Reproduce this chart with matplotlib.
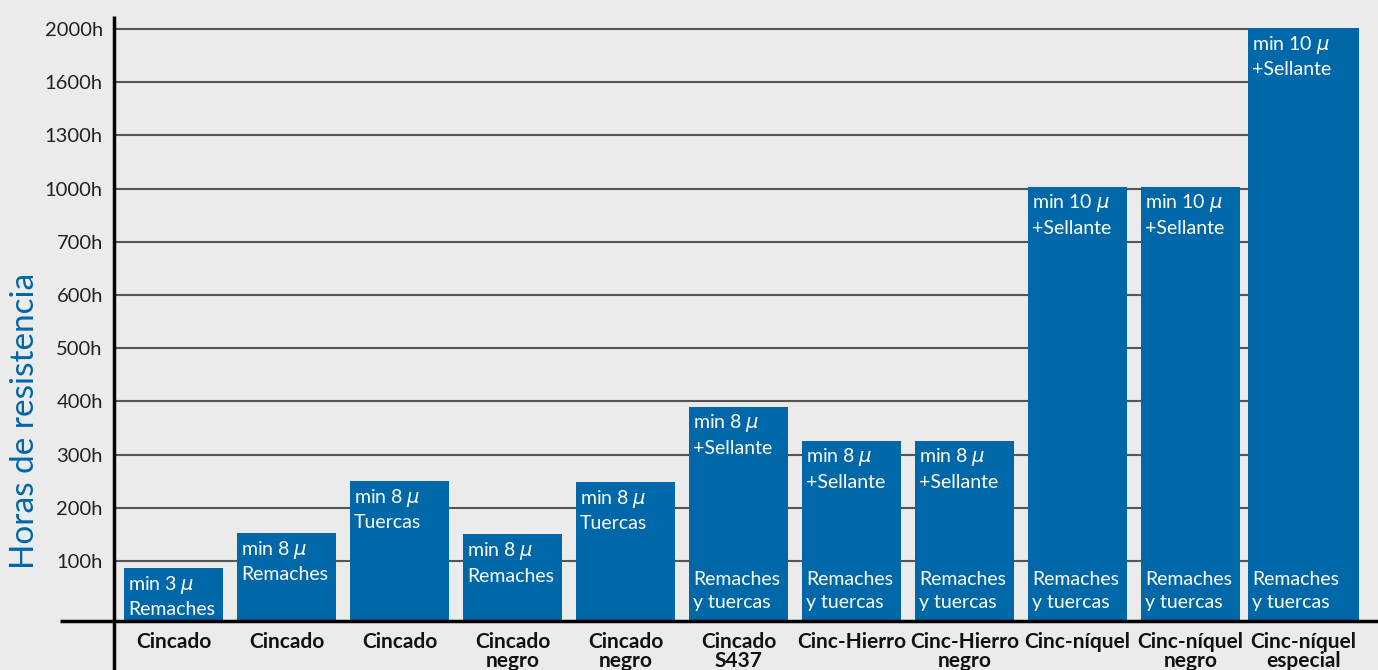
#!/usr/bin/env python3

import matplotlib
matplotlib.use("Agg")
import matplotlib.pyplot as plt
import numpy as np

# --- data ---
categories = ['Cincado', 'Cincado', 'Cincado', 'Cincado\nnegro', 'Cincado\nnegro',
              'Cincado\nS437', 'Cinc-Hierro', 'Cinc-Hierro\nnegro', 'Cinc-níquel',
              'Cinc-níquel\nnegro', 'Cinc-níquel\nespecial']
hours = [88, 152, 250, 150, 248, 390, 326, 326, 1010, 1010, 2005]
microns = ['3', '8', '8', '8', '8', '8', '8', '8', '10', '10', '10']
top_notes = ['Remaches', 'Remaches', 'Tuercas', 'Remaches', 'Tuercas',
             '+Sellante', '+Sellante', '+Sellante', '+Sellante', '+Sellante', '+Sellante']
bottom_notes = ['', '', '', '', '', 'Remaches\ny tuercas', 'Remaches\ny tuercas',
                'Remaches\ny tuercas', 'Remaches\ny tuercas', 'Remaches\ny tuercas',
                'Remaches\ny tuercas']
tick_hours = [0, 100, 200, 300, 400, 500, 600, 700, 1000, 1300, 1600, 2000]
tick_labels = ['', '100h', '200h', '300h', '400h', '500h', '600h', '700h',
               '1000h', '1300h', '1600h', '2000h']

BLUE = '#0067a8'
BG = '#ebebeb'

plt.rcParams['font.family'] = ['Lato', 'DejaVu Sans']
plt.rcParams['mathtext.fontset'] = 'dejavusans'

# uneven axis: ticks equally spaced, first step a bit taller
tick_pos = np.array([0, 1.128] + [1.128 + i for i in range(1, 11)] + [12.128])
tick_ref = np.array(tick_hours + [2400])

def fwd(h):
    return np.interp(h, tick_ref, tick_pos)

def inv(p):
    return np.interp(p, tick_pos, tick_ref)

W, H, dpi = 1378, 670, 100
fig = plt.figure(figsize=(W/dpi, H/dpi), dpi=dpi, facecolor=BG)
ax = fig.add_axes([114/W, (H-621)/H, 1 - 114/W, (621-16)/H])
ax.set_facecolor(BG)

ax.set_yscale('function', functions=(fwd, inv))
ax.set_ylim(0, inv(605/53.2))
x = np.arange(len(categories))
widths = [0.876]*10 + [0.982]
ax.set_xlim(-0.527, 10.659)

# gridlines stop where the last bar starts
ax.hlines(tick_hours[1:], -0.527, x[-1] - widths[-1]/2, color='#555555', lw=1.5, zorder=1)

ax.bar(x, hours, width=widths, color=BLUE, zorder=2)

for i in range(len(categories)):
    left = x[i] - widths[i]/2
    ax.annotate('min ' + microns[i] + r' $\mu$' + '\n' + top_notes[i],
                xy=(left, hours[i]), xytext=(3, -4), textcoords='offset points',
                ha='left', va='top', color='white', fontsize=14,
                linespacing=1.4, zorder=3)
    if bottom_notes[i]:
        ax.annotate(bottom_notes[i], xy=(left, 0), xytext=(3, 7),
                    textcoords='offset points', ha='left', va='bottom',
                    color='white', fontsize=14, linespacing=1.45, zorder=3)

ax.set_yticks(tick_hours)
ax.set_yticklabels(tick_labels)
ax.yaxis.set_minor_locator(matplotlib.ticker.NullLocator())
ax.tick_params(axis='y', length=0, pad=8, labelsize=14.5, labelcolor='#222222')
ax.set_xticks(x)
ax.set_xticklabels(categories, fontweight='bold', linespacing=0.95)
ax.tick_params(axis='x', length=0, pad=8, labelsize=15, labelcolor='#111111')

for s in ax.spines.values():
    s.set_visible(False)

# axis lines, both running past the plot area
ax.plot([-54/1264, 1], [0, 0], transform=ax.transAxes, color='black', lw=2.5,
        clip_on=False, zorder=4, solid_capstyle='butt')
ax.plot([0, 0], [-49/605, 1], transform=ax.transAxes, color='black', lw=2.5,
        clip_on=False, zorder=4, solid_capstyle='butt')

fig.text(25/W, 1 - 421/H, 'Horas de resistencia', rotation=90, color=BLUE,
         fontsize=24, ha='center', va='center')

fig.savefig('out.png', dpi=dpi, facecolor=BG)
